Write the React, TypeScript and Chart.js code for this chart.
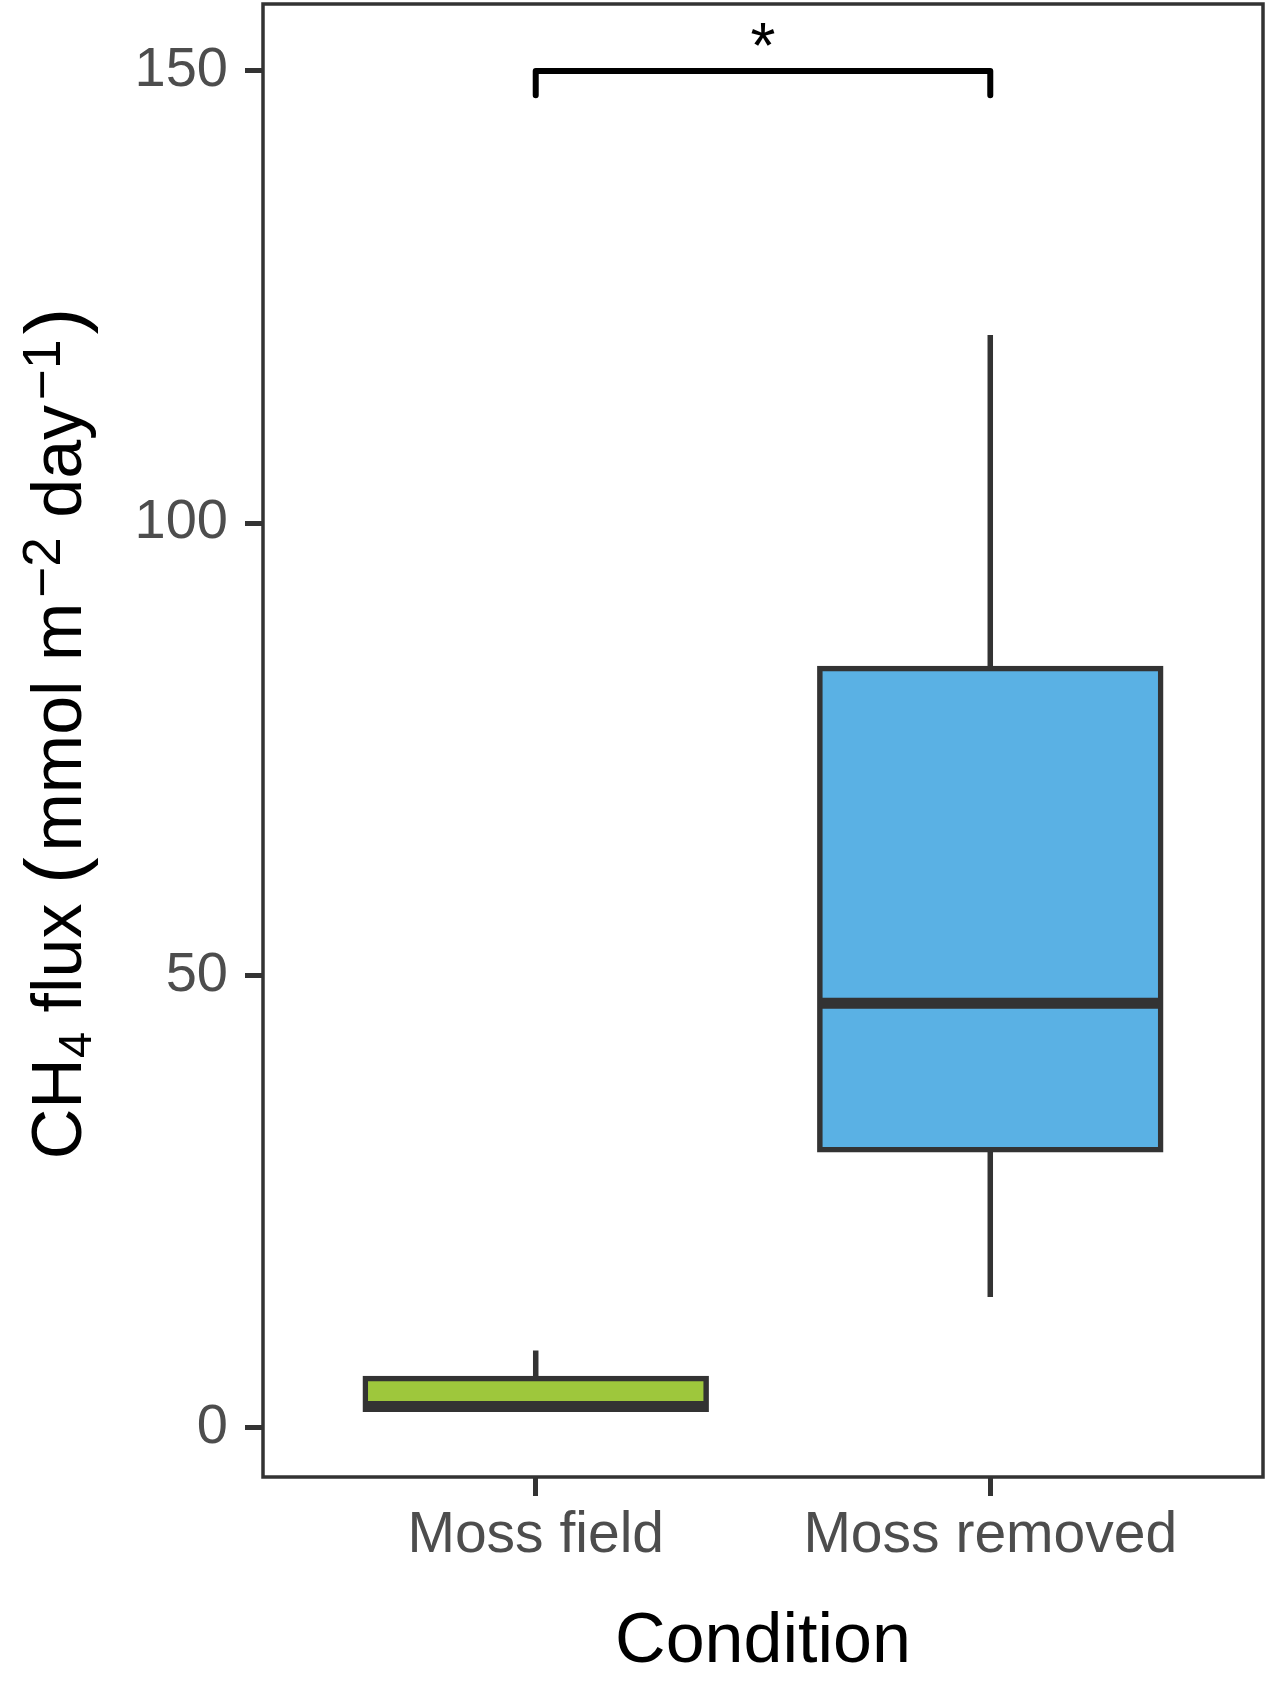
import React, { useEffect, useRef } from 'react';
import { Chart, registerables } from 'chart.js';

Chart.register(...registerables);

const FONT = '"Liberation Sans", Arial, Helvetica, sans-serif';

// ---- data ----
const categories = ['Moss field', 'Moss removed'];
const positions = [1, 2];
const whiskerLow = [1.9, 14.4];
const quartile1 = [2.0, 30.7];
const medians = [2.3, 46.9];
const quartile3 = [5.4, 83.9];
const whiskerHigh = [8.5, 120.8];
const boxColors = ['#9EC73C', '#5AB1E4'];
const yTickValues = [0, 50, 100, 150];
const xTitle = 'Condition';
const yTitleParts = [
  { text: 'CH', kind: 'normal' },
  { text: '4', kind: 'sub' },
  { text: ' flux ', kind: 'normal' },
  { text: '(', kind: 'paren' },
  { text: 'mmol m', kind: 'normal' },
  { text: '\u22122', kind: 'sup' },
  { text: ' day', kind: 'normal' },
  { text: '\u22121', kind: 'sup' },
  { text: ')', kind: 'paren' },
];
const bracketFrom = [1];
const bracketTo = [2];
const bracketLevel = [150];
const bracketTip = [147.3];
const bracketLabel = ['*'];

const sizes: Record<string, number> = { normal: 70, sub: 47, sup: 53, paren: 80 };
const shifts: Record<string, number> = { normal: 0, sub: 10, sup: -21, paren: 0 };

function gapBefore(p: { text: string; kind: string }) {
  if (p.kind === 'sup') return 5;
  if (p.kind === 'paren' && p.text === ')') return 5;
  return 0;
}
function gapAfter(p: { text: string; kind: string }) {
  if (p.kind === 'paren' && p.text === '(') return 6;
  return 0;
}

const extrasPlugin = {
  id: 'boxExtras',
  beforeDatasetsDraw(chart: any) {
    const { ctx, scales } = chart;
    const x = scales.x;
    const y = scales.y;
    ctx.save();
    ctx.strokeStyle = '#333333';
    ctx.lineWidth = 5.5;
    ctx.lineCap = 'butt';
    positions.forEach((p, i) => {
      const px = x.getPixelForValue(p);
      ctx.beginPath();
      ctx.moveTo(px, y.getPixelForValue(quartile3[i]));
      ctx.lineTo(px, y.getPixelForValue(whiskerHigh[i]));
      ctx.moveTo(px, y.getPixelForValue(quartile1[i]));
      ctx.lineTo(px, y.getPixelForValue(whiskerLow[i]));
      ctx.stroke();
    });
    ctx.restore();
  },
  afterDatasetsDraw(chart: any) {
    const { ctx, scales } = chart;
    const y = scales.y;
    const meta = chart.getDatasetMeta(0);
    ctx.save();
    ctx.strokeStyle = '#333333';
    ctx.lineWidth = 11;
    ctx.lineCap = 'butt';
    meta.data.forEach((bar: any, i: number) => {
      const { x: cx, width } = bar.getProps(['x', 'width'], true);
      const py = y.getPixelForValue(medians[i]);
      ctx.beginPath();
      ctx.moveTo(cx - width / 2, py);
      ctx.lineTo(cx + width / 2, py);
      ctx.stroke();
    });
    ctx.restore();
  },
  afterDraw(chart: any) {
    const { ctx, chartArea: a, scales } = chart;
    const x = scales.x;
    const y = scales.y;
    ctx.save();
    // panel border
    ctx.strokeStyle = '#333333';
    ctx.lineWidth = 3.5;
    ctx.strokeRect(a.left, a.top, a.right - a.left, a.bottom - a.top);

    // significance bracket
    bracketFrom.forEach((f, i) => {
      const x1 = x.getPixelForValue(f);
      const x2 = x.getPixelForValue(bracketTo[i]);
      const yl = y.getPixelForValue(bracketLevel[i]);
      const yt = y.getPixelForValue(bracketTip[i]);
      ctx.strokeStyle = '#000000';
      ctx.lineWidth = 6;
      ctx.lineCap = 'round';
      ctx.lineJoin = 'round';
      ctx.beginPath();
      ctx.moveTo(x1, yt);
      ctx.lineTo(x1, yl);
      ctx.lineTo(x2, yl);
      ctx.lineTo(x2, yt);
      ctx.stroke();
      ctx.fillStyle = '#000000';
      ctx.font = `64px ${FONT}`;
      ctx.textAlign = 'center';
      ctx.textBaseline = 'alphabetic';
      ctx.fillText(bracketLabel[i], (x1 + x2) / 2, yl - 3);
    });

    // y-axis title with sub/superscripts
    const widths = yTitleParts.map((p) => {
      ctx.font = `${sizes[p.kind]}px ${FONT}`;
      return ctx.measureText(p.text).width;
    });
    const total = yTitleParts.reduce((s, p, i) => s + gapBefore(p) + widths[i] + gapAfter(p), 0);
    const cy = (a.top + a.bottom) / 2 - 7;
    const bx = 81;
    ctx.translate(bx, cy);
    ctx.rotate(-Math.PI / 2);
    ctx.fillStyle = '#000000';
    ctx.textAlign = 'left';
    ctx.textBaseline = 'alphabetic';
    let pos = -total / 2;
    yTitleParts.forEach((p, i) => {
      pos += gapBefore(p);
      ctx.font = `${sizes[p.kind]}px ${FONT}`;
      ctx.fillText(p.text, pos, shifts[p.kind]);
      pos += widths[i] + gapAfter(p);
    });
    ctx.restore();
  },
};

export default function App() {
  const ref = useRef<HTMLCanvasElement | null>(null);

  useEffect(() => {
    if (!ref.current) return;
    const chart = new Chart(ref.current, {
      type: 'bar',
      data: {
        datasets: [
          {
            data: positions.map((p, i) => ({ x: p, y: [quartile1[i], quartile3[i]] })) as any,
            backgroundColor: boxColors,
            borderColor: '#333333',
            borderWidth: 5.5,
            borderSkipped: false,
            inflateAmount: 2.75,
            categoryPercentage: 1,
            barPercentage: 0.75,
          } as any,
        ],
      },
      options: {
        animation: false,
        responsive: false,
        devicePixelRatio: 1,
        layout: { padding: { top: 4, right: 6, left: 0, bottom: 0 } },
        plugins: { legend: { display: false }, tooltip: { enabled: false } },
        scales: {
          x: {
            type: 'linear',
            min: 0.4,
            max: 2.6,
            offset: false,
            afterBuildTicks: (s: any) => {
              s.ticks = positions.map((v) => ({ value: v }));
            },
            afterFit: (s: any) => {
              s.height = 204;
              s.paddingLeft = 0;
              s.paddingRight = 0;
            },
            ticks: {
              autoSkip: false,
              maxRotation: 0,
              padding: 6,
              color: '#4D4D4D',
              font: { family: FONT, size: 57 },
              callback: (v: any) => categories[positions.indexOf(Number(v))] ?? '',
            },
            grid: {
              offset: false,
              drawOnChartArea: false,
              drawTicks: true,
              tickLength: 19,
              color: '#333333',
              lineWidth: 5,
            },
            border: { display: false },
            title: {
              display: true,
              text: xTitle,
              color: '#000000',
              font: { family: FONT, size: 70, lineHeight: 1.1 },
              padding: { top: 0, bottom: 0 },
            },
          },
          y: {
            type: 'linear',
            min: -5.5,
            max: 157.4,
            afterBuildTicks: (s: any) => {
              s.ticks = yTickValues.map((v) => ({ value: v }));
            },
            afterFit: (s: any) => {
              s.width = 263;
              s.paddingTop = 0;
              s.paddingBottom = 0;
            },
            ticks: {
              padding: 17,
              color: '#4D4D4D',
              font: { family: FONT, size: 56 },
            },
            grid: {
              drawOnChartArea: false,
              drawTicks: true,
              tickLength: 18,
              color: '#333333',
              lineWidth: 5,
            },
            border: { display: false },
          },
        },
      } as any,
      plugins: [extrasPlugin],
    });
    return () => chart.destroy();
  }, []);

  return (
    <div style={{ position: 'absolute', left: 0, top: 0, width: 1269, height: 1681, background: '#ffffff' }}>
      <canvas ref={ref} width={1269} height={1681} style={{ display: 'block' }} />
    </div>
  );
}
